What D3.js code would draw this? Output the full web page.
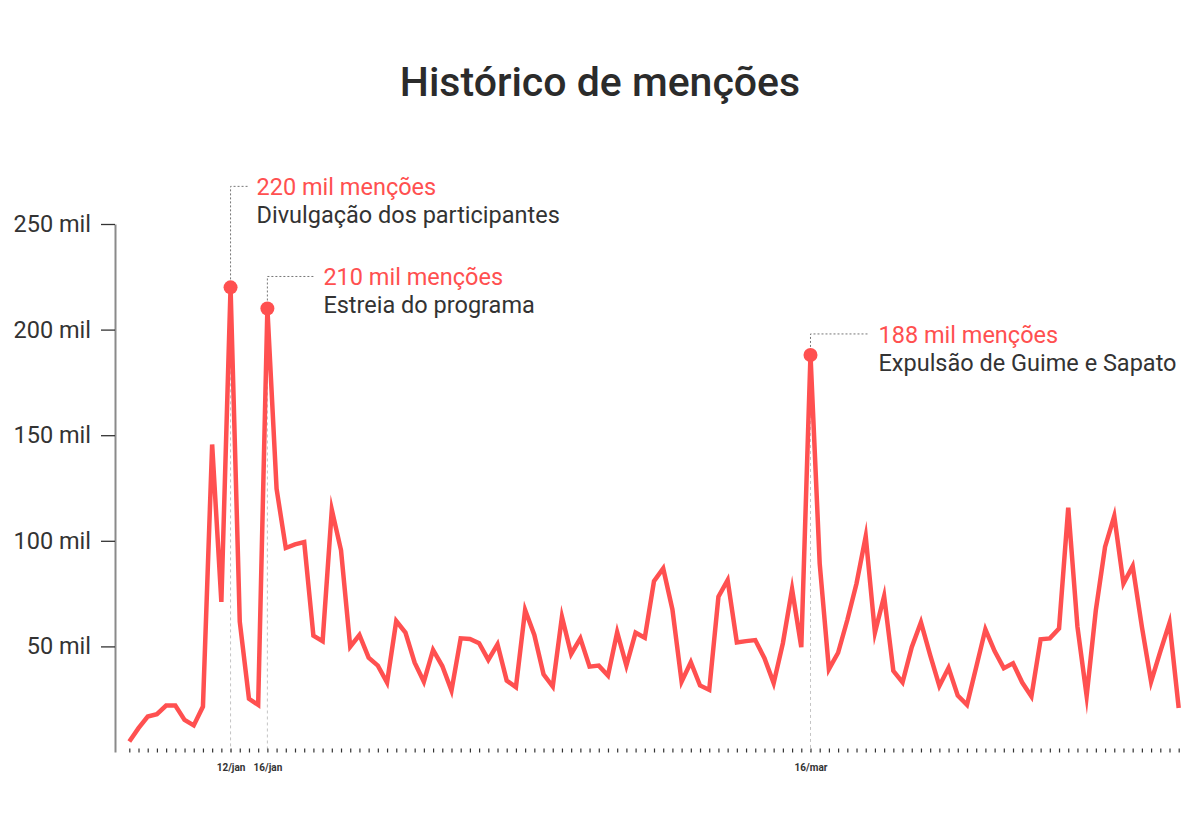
<!DOCTYPE html>
<html>
<head>
<meta charset="utf-8">
<script src="https://cdn.jsdelivr.net/npm/d3@7"></script>
<style>
  body { margin: 0; background: #fff; }
  svg { font-family: Roboto, sans-serif; }
</style>
</head>
<body>
<svg width="1200" height="821"></svg>
<script>
(function(){
  'use strict';

  var WIDTH = 1200;
  var HEIGHT = 821;

  var padding = {
    top: 224,
    bottom: 69,
    left: 115,
    right: 21
  };

  // daily mentions, in thousands, 1/jan to 25/abr
  var startDate = new Date(2023, 0, 1);
  var endDate = new Date(2023, 3, 26);
  var mentions = [
    5.0, 11.3, 16.8, 17.9, 22.0, 22.0, 15.2, 12.6, 21.5, 145.6,
    71.1, 220, 61.7, 25.2, 22.3, 210, 124.6, 96.6, 98.3, 99.4,
    55.1, 52.5, 114.7, 95.5, 49.9, 55.4, 44.7, 40.9, 32.9, 62.0,
    56.5, 42.3, 33.3, 48.3, 40.7, 29.1, 53.8, 53.5, 51.5, 43.6,
    51.0, 33.8, 30.7, 67.2, 55.4, 36.8, 31.0, 64.0, 46.4, 53.8,
    40.4, 40.9, 36.2, 56.7, 40.9, 56.5, 54.1, 80.9, 86.9, 67.5,
    33.3, 42.5, 31.5, 29.4, 73.5, 81.4, 51.9, 52.5, 53.0, 44.4,
    32.6, 51.5, 77.1, 49.6, 188, 89.2, 39.2, 47.0, 62.5, 79.8,
    102.1, 56.5, 73.8, 38.4, 33.0, 49.6, 61.4, 45.9, 31.3, 39.9,
    26.7, 22.3, 40.1, 58.1, 47.8, 39.7, 42.0, 32.9, 26.3, 53.4,
    53.8, 58.5, 115.7, 59.3, 26.6, 67.2, 97.1, 111.7, 79.8, 88.0,
    59.3, 33.3, 47.5, 61.2, 20.8
  ];
  var yTicks = [50, 100, 150, 200, 250];

  // highlighted days
  var annDates = [new Date(2023, 0, 12), new Date(2023, 0, 16), new Date(2023, 2, 16)];
  var annLabels = ['12/jan', '16/jan', '16/mar'];
  var annValues = ['220 mil menções', '210 mil menções', '188 mil menções'];
  var annTexts = ['Divulgação dos participantes', 'Estreia do programa', 'Expulsão de Guime e Sapato'];

  // leader line layout per annotation (px)
  var annLayout = [
    { rise: 101, run: 17 },
    { rise: 32, run: 47 },
    { rise: 21, run: 59 }
  ];

  var RED = '#ff5050';
  var DARK = '#333';

  var days = d3.timeDay.range(startDate, endDate);
  var data = days.map(function(d, i) {
    return { date: d, value: mentions[i] };
  });

  var valueAt = function(d) {
    return mentions[d3.timeDay.count(startDate, d)];
  };

  var svg = d3.select('svg');

  var xScale = d3.scaleTime()
    .domain([startDate, days[days.length - 1]])
    .range([129.3, 1178.7]);

  var yScale = d3.scaleLinear()
    .domain([0, 250])
    .range([HEIGHT - padding.bottom, padding.top]);

  // title
  svg.append('text')
    .attr('x', WIDTH / 2)
    .attr('y', 96)
    .attr('text-anchor', 'middle')
    .attr('font-size', 41)
    .attr('font-weight', 500)
    .attr('fill', '#2b2b2b')
    .text('Histórico de menções');

  // guide lines from the highlighted points down to the axis
  svg.selectAll('.guide')
    .data(annDates)
    .enter()
    .append('line')
    .attr('class', 'guide')
    .attr('x1', function(d) { return xScale(d); })
    .attr('x2', function(d) { return xScale(d); })
    .attr('y1', function(d) { return yScale(valueAt(d)); })
    .attr('y2', yScale(0))
    .attr('stroke', '#c4c4c4')
    .attr('stroke-width', 1)
    .attr('stroke-dasharray', '3,3');

  // y axis
  var yAxis = svg.append('g')
    .attr('class', 'axis')
    .attr('transform', 'translate(' + [padding.left, 0] + ')')
    .call(d3.axisLeft(yScale)
      .tickValues(yTicks)
      .tickSize(14)
      .tickSizeOuter(0)
      .tickPadding(10)
      .tickFormat(function(d) { return d + ' mil'; }));

  yAxis.select('.domain')
    .attr('stroke', '#8a8a8a')
    .attr('stroke-width', 2);
  yAxis.selectAll('.tick line')
    .attr('stroke', DARK)
    .attr('stroke-width', 1.3);
  yAxis.selectAll('.tick text')
    .attr('font-size', 23.5)
    .attr('font-family', 'Roboto, sans-serif')
    .attr('fill', DARK);

  // x axis: a tick for each day, labels only on highlighted days
  var labelFor = function(d) {
    for (var i = 0; i < annDates.length; i++) {
      if (+annDates[i] === +d) return annLabels[i];
    }
    return '';
  };

  var xAxis = svg.append('g')
    .attr('class', 'axis')
    .attr('transform', 'translate(' + [0, 748.5] + ')')
    .call(d3.axisBottom(xScale)
      .tickValues(days)
      .tickSize(4)
      .tickPadding(11)
      .tickFormat(labelFor));

  xAxis.select('.domain').remove();
  xAxis.selectAll('.tick line')
    .attr('stroke', DARK)
    .attr('stroke-width', 1.2);
  xAxis.selectAll('.tick text')
    .attr('font-size', 10)
    .attr('font-weight', 700)
    .attr('font-family', 'Roboto, sans-serif')
    .attr('fill', DARK);

  // line
  var line = d3.line()
    .x(function(d) { return xScale(d.date); })
    .y(function(d) { return yScale(d.value); });

  svg.append('path')
    .datum(data)
    .attr('d', line)
    .attr('fill', 'none')
    .attr('stroke', RED)
    .attr('stroke-width', 4.5)
    .attr('stroke-linejoin', 'miter')
    .attr('stroke-miterlimit', 10);

  // annotations
  var ann = svg.selectAll('.ann')
    .data(annDates)
    .enter()
    .append('g')
    .attr('class', 'ann');

  ann.append('path')
    .attr('d', function(d, i) {
      var x = xScale(d);
      var y = yScale(valueAt(d));
      var top = y - annLayout[i].rise;
      return 'M' + x + ',' + y + 'V' + top + 'H' + (x + annLayout[i].run);
    })
    .attr('fill', 'none')
    .attr('stroke', '#777')
    .attr('stroke-width', 1)
    .attr('stroke-dasharray', '2,2');

  ann.append('circle')
    .attr('cx', function(d) { return xScale(d); })
    .attr('cy', function(d) { return yScale(valueAt(d)); })
    .attr('r', 7)
    .attr('fill', RED);

  ann.append('text')
    .attr('x', function(d, i) { return xScale(d) + annLayout[i].run + 9; })
    .attr('y', function(d, i) { return yScale(valueAt(d)) - annLayout[i].rise + 9; })
    .attr('font-size', 23.5)
    .attr('fill', RED)
    .text(function(d, i) { return annValues[i]; });

  ann.append('text')
    .attr('x', function(d, i) { return xScale(d) + annLayout[i].run + 9; })
    .attr('y', function(d, i) { return yScale(valueAt(d)) - annLayout[i].rise + 37; })
    .attr('font-size', 23.5)
    .attr('fill', DARK)
    .text(function(d, i) { return annTexts[i]; });
})();
</script>
</body>
</html>
